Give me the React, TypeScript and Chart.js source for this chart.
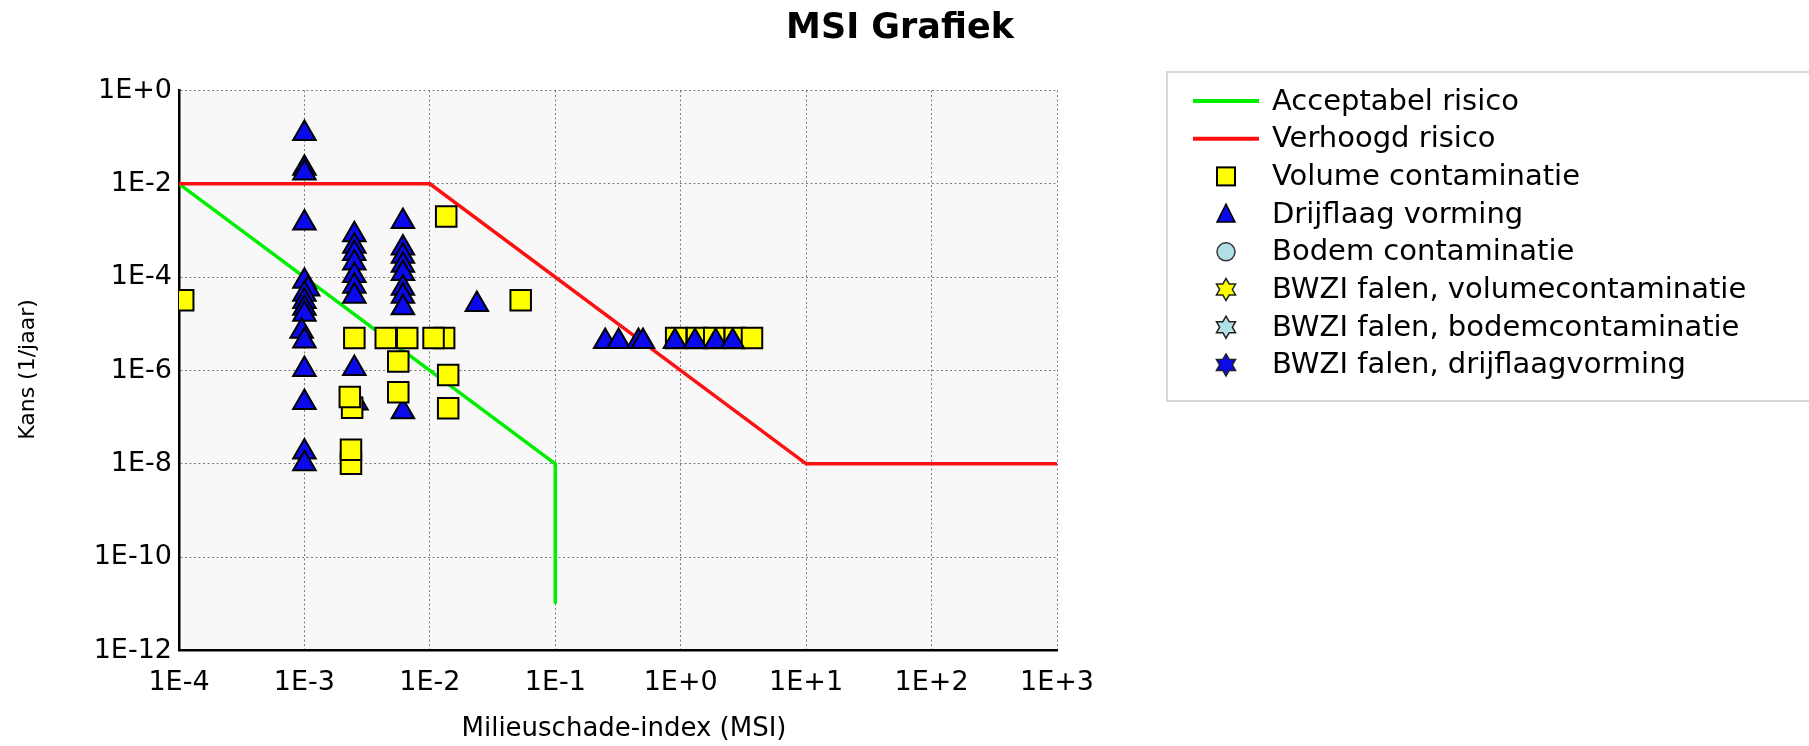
import React, { useEffect, useRef } from 'react';
import { Chart, registerables } from 'chart.js';

Chart.register(...registerables);

const chartTitle = 'MSI Grafiek';
const xAxisTitle = 'Milieuschade-index (MSI)';
const yAxisTitle = 'Kans (1/jaar)';

const xTickValues = [1e-4, 1e-3, 1e-2, 1e-1, 1e0, 1e1, 1e2, 1e3];
const xTickLabels = ['1E-4', '1E-3', '1E-2', '1E-1', '1E+0', '1E+1', '1E+2', '1E+3'];
const yTickValues = [1e-12, 1e-10, 1e-8, 1e-6, 1e-4, 1e-2, 1];
const yTickLabels = ['1E-12', '1E-10', '1E-8', '1E-6', '1E-4', '1E-2', '1E+0'];

const acceptabelMsi = [1e-4, 1e-1, 1e-1];
const acceptabelKans = [1e-2, 1e-8, 1e-11];
const verhoogdMsi = [1e-4, 1e-2, 1e1, 1e3];
const verhoogdKans = [1e-2, 1e-2, 1e-8, 1e-8];

const volumeMsi = [1.08e-4, 2.5e-3, 4.45e-3, 6.6e-3, 1.3e-2, 1.07e-2, 5.6e-3, 1.4e-2, 2.4e-3, 2.3e-3, 5.6e-3, 1.4e-2, 2.35e-3, 2.35e-3, 1.35e-2, 5.3e-2];
const volumeKans = [3.2e-5, 5e-6, 5e-6, 5e-6, 5e-6, 5e-6, 1.55e-6, 8e-7, 1.6e-7, 2.7e-7, 3.4e-7, 1.55e-7, 1e-8, 2e-8, 2e-3, 3.2e-5];
const volumeHighMsi = [0.92, 1.35, 1.85, 2.7, 3.7];
const volumeHighKans = [5e-6, 5e-6, 5e-6, 5e-6, 5e-6];

const drijflaagMsi = [
  1e-3, 1e-3, 1e-3, 1e-3, 1e-3, 1.07e-3, 1e-3, 1e-3, 1e-3, 1e-3, 0.95e-3, 1e-3, 1e-3, 1e-3, 1e-3, 1e-3,
  2.5e-3, 2.5e-3, 2.5e-3, 2.5e-3, 2.5e-3, 2.5e-3, 2.5e-3, 2.5e-3, 2.6e-3,
  6.1e-3, 6.1e-3, 6.1e-3, 6.1e-3, 6.1e-3, 6.1e-3, 6.1e-3, 6.1e-3, 6.1e-3,
  2.37e-2,
  0.25, 0.32, 0.46, 0.5, 0.9, 1.3, 1.9, 2.6,
];
const drijflaagKans = [
  1.2e-1, 2.15e-2, 1.7e-2, 1.45e-3, 8.2e-5, 5.6e-5, 4.3e-5, 3e-5, 2.15e-5, 1.6e-5, 6.9e-6, 4.3e-6, 1.05e-6, 2.05e-7, 1.8e-8, 1e-8,
  8.1e-4, 4.6e-4, 3.2e-4, 2e-4, 1.08e-4, 6.4e-5, 3.9e-5, 1.1e-6, 2e-7,
  1.55e-3, 4.2e-4, 2.8e-4, 1.8e-4, 1.2e-4, 5.8e-5, 3.9e-5, 2.2e-5, 1.3e-7,
  2.6e-5,
  4.2e-6, 4.2e-6, 4.2e-6, 4.2e-6, 4.2e-6, 4.2e-6, 4.2e-6, 4.2e-6,
];

const legendLabels = [
  'Acceptabel risico',
  'Verhoogd risico',
  'Volume contaminatie',
  'Drijflaag vorming',
  'Bodem contaminatie',
  'BWZI falen, volumecontaminatie',
  'BWZI falen, bodemcontaminatie',
  'BWZI falen, drijflaagvorming',
];

const GREEN = '#00ee00';
const RED = '#ff1010';
const YELLOW = '#ffff00';
const BLUE = '#0a0aea';
const LIGHTBLUE = '#b0e0e6';

const toPoints = (xs: number[], ys: number[]) => xs.map((x, i) => ({ x, y: ys[i] }));

function drawStar6(ctx: CanvasRenderingContext2D, x: number, y: number, r: number, fill: string) {
  ctx.beginPath();
  for (let k = 0; k < 12; k++) {
    const ang = -Math.PI / 2 + (k * Math.PI) / 6;
    const rr = k % 2 === 0 ? r : r * 0.58;
    const px = x + Math.cos(ang) * rr;
    const py = y + Math.sin(ang) * rr;
    if (k === 0) ctx.moveTo(px, py);
    else ctx.lineTo(px, py);
  }
  ctx.closePath();
  ctx.fillStyle = fill;
  ctx.fill();
  ctx.lineWidth = 1.5;
  ctx.strokeStyle = '#222';
  ctx.stroke();
}

const decorPlugin = {
  id: 'decor',
  beforeDraw(chart: any) {
    const { ctx, chartArea } = chart;
    ctx.save();
    ctx.fillStyle = '#ffffff';
    ctx.fillRect(0, 0, chart.width, chart.height);
    ctx.fillStyle = '#f8f8f8';
    ctx.fillRect(chartArea.left, chartArea.top, chartArea.right - chartArea.left, chartArea.bottom - chartArea.top);
    ctx.restore();
  },
  afterDraw(chart: any) {
    const { ctx, chartArea } = chart;
    ctx.save();
    ctx.fillStyle = '#000';
    // title
    ctx.font = 'bold 35px "DejaVu Sans"';
    ctx.textAlign = 'center';
    ctx.textBaseline = 'alphabetic';
    ctx.fillText(chartTitle, 900, 38);
    // x axis title
    ctx.font = '26px "DejaVu Sans"';
    ctx.fillText(xAxisTitle, 624, 736);
    // y axis title
    ctx.save();
    ctx.translate(28, (chartArea.top + chartArea.bottom) / 2 - 1);
    ctx.rotate(-Math.PI / 2);
    ctx.font = '22px "DejaVu Sans"';
    ctx.textBaseline = 'middle';
    ctx.fillText(yAxisTitle, 0, 0);
    ctx.restore();

    // legend box
    const bx = 1167, by = 72, bw = 1809 - 1167 + 5, bh = 329;
    ctx.strokeStyle = '#d8d8d8';
    ctx.lineWidth = 2;
    ctx.strokeRect(bx, by, bw, bh);

    const rowY0 = 101;
    const rowStep = 37.7;
    const mx = 1226;
    ctx.font = '29px "DejaVu Sans"';
    ctx.textAlign = 'left';
    ctx.textBaseline = 'middle';
    legendLabels.forEach((label, i) => {
      const y = rowY0 + i * rowStep;
      if (i === 0 || i === 1) {
        ctx.strokeStyle = i === 0 ? GREEN : RED;
        ctx.lineWidth = 4;
        ctx.beginPath();
        ctx.moveTo(1193, y);
        ctx.lineTo(1259, y);
        ctx.stroke();
      } else if (i === 2) {
        ctx.fillStyle = YELLOW;
        ctx.fillRect(mx - 9, y - 9, 18, 18);
        ctx.strokeStyle = '#000';
        ctx.lineWidth = 2;
        ctx.strokeRect(mx - 9, y - 9, 18, 18);
      } else if (i === 3) {
        ctx.beginPath();
        ctx.moveTo(mx, y - 10);
        ctx.lineTo(mx + 9, y + 8);
        ctx.lineTo(mx - 9, y + 8);
        ctx.closePath();
        ctx.fillStyle = BLUE;
        ctx.fill();
        ctx.strokeStyle = '#000';
        ctx.lineWidth = 1.5;
        ctx.stroke();
      } else if (i === 4) {
        ctx.beginPath();
        ctx.arc(mx, y, 9, 0, Math.PI * 2);
        ctx.fillStyle = LIGHTBLUE;
        ctx.fill();
        ctx.strokeStyle = '#333';
        ctx.lineWidth = 1.5;
        ctx.stroke();
      } else {
        const fills = [YELLOW, LIGHTBLUE, BLUE];
        drawStar6(ctx, mx, y, 11, fills[i - 5]);
      }
      ctx.fillStyle = '#000';
      ctx.fillText(label, 1272, y + 1);
    });
    ctx.restore();
  },
};

const tickFont = { family: 'DejaVu Sans', size: 27 };

export default function App() {
  const canvasRef = useRef<HTMLCanvasElement | null>(null);

  useEffect(() => {
    if (!canvasRef.current) return;
    const chart = new Chart(canvasRef.current, {
      type: 'scatter',
      data: {
        datasets: [
          {
            label: legendLabels[2],
            data: toPoints(volumeMsi, volumeKans),
            pointStyle: 'rect',
            pointRadius: 14.5,
            backgroundColor: YELLOW,
            borderColor: '#000',
            borderWidth: 2,
            order: 0,
          },
          {
            label: legendLabels[3],
            data: toPoints(drijflaagMsi, drijflaagKans),
            pointStyle: 'triangle',
            pointRadius: 13,
            backgroundColor: BLUE,
            borderColor: '#000',
            borderWidth: 2,
            order: 1,
          },
          {
            label: legendLabels[2] + ' ',
            data: toPoints(volumeHighMsi, volumeHighKans),
            pointStyle: 'rect',
            pointRadius: 14.5,
            backgroundColor: YELLOW,
            borderColor: '#000',
            borderWidth: 2,
            order: 2,
          },
          {
            label: legendLabels[1],
            data: toPoints(verhoogdMsi, verhoogdKans),
            showLine: true,
            pointRadius: 0,
            borderColor: RED,
            borderWidth: 3.5,
            fill: false,
            order: 5,
          },
          {
            label: legendLabels[0],
            data: toPoints(acceptabelMsi, acceptabelKans),
            showLine: true,
            pointRadius: 0,
            borderColor: GREEN,
            borderWidth: 3.5,
            fill: false,
            order: 6,
          },
        ],
      },
      options: {
        animation: false,
        responsive: false,
        devicePixelRatio: 1,
        events: [],
        layout: { padding: { top: 90.5, right: 752, bottom: 0, left: 0 } },
        plugins: {
          legend: { display: false },
          title: { display: false },
          tooltip: { enabled: false },
        },
        scales: {
          x: {
            type: 'logarithmic',
            min: 1e-4,
            max: 1e3,
            afterBuildTicks: (s: any) => {
              s.ticks = xTickValues.map((v) => ({ value: v }));
            },
            afterFit: (s: any) => {
              s.height = 95.5;
            },
            ticks: {
              autoSkip: false,
              maxRotation: 0,
              minRotation: 0,
              padding: 16,
              color: '#000',
              font: tickFont,
              callback: (_v: any, i: number) => xTickLabels[i],
            },
            grid: { color: '#7a7a7a', lineWidth: 1, drawTicks: false, tickLength: 0 },
            border: { display: true, color: '#000', width: 2.5, dash: [2, 2.5] },
          },
          y: {
            type: 'logarithmic',
            min: 1e-12,
            max: 1,
            afterBuildTicks: (s: any) => {
              s.ticks = yTickValues.map((v) => ({ value: v }));
            },
            afterFit: (s: any) => {
              s.width = 179;
            },
            ticks: {
              autoSkip: false,
              padding: 7,
              color: '#000',
              font: tickFont,
              callback: (_v: any, i: number) => yTickLabels[i],
            },
            grid: { color: '#7a7a7a', lineWidth: 1, drawTicks: false, tickLength: 0 },
            border: { display: true, color: '#000', width: 2.5, dash: [2, 2.5] },
          },
        },
      } as any,
      plugins: [decorPlugin],
    });
    return () => chart.destroy();
  }, []);

  return (
    <div style={{ position: 'fixed', left: 0, top: 0, width: 1809, height: 746, background: '#fff' }}>
      <canvas ref={canvasRef} width={1809} height={746} style={{ display: 'block', width: 1809, height: 746 }} />
    </div>
  );
}
